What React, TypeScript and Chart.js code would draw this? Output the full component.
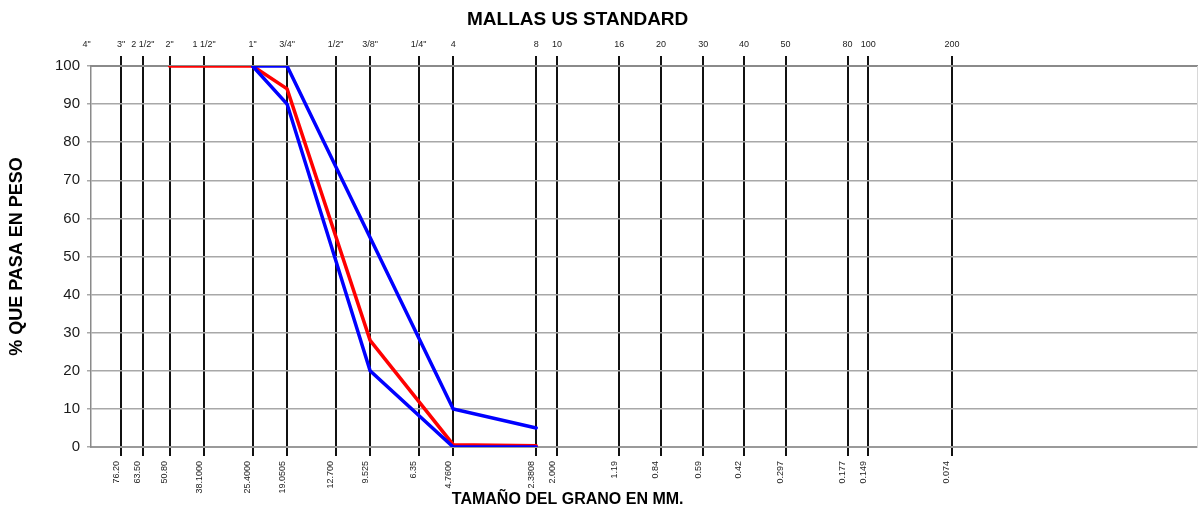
import React, { useEffect, useRef } from 'react';
import { Chart, registerables } from 'chart.js';

Chart.register(...registerables);

// ---- data ----
const chartTitle = 'MALLAS US STANDARD';
const xAxisTitle = 'TAMAÑO DEL GRANO EN MM.';
const yAxisTitle = '% QUE PASA EN PESO';

// bottom axis: sieve openings in mm
const mmTickValues = [76.2, 63.5, 50.8, 38.1, 25.4, 19.0505, 12.7, 9.525, 6.35, 4.76, 2.3808, 2.0, 1.19, 0.84, 0.59, 0.42, 0.297, 0.177, 0.149, 0.074];
const mmTickLabels = ['76.20', '63.50', '50.80', '38.1000', '25.4000', '19.0505', '12.700', '9.525', '6.35', '4.7600', '2.3808', '2.000', '1.19', '0.84', '0.59', '0.42', '0.297', '0.177', '0.149', '0.074'];

// top axis: US standard sieve names
const sieveTickValues = [101.6, 76.2, 63.5, 50.8, 38.1, 25.4, 19.0505, 12.7, 9.525, 6.35, 4.76, 2.3808, 2.0, 1.19, 0.84, 0.59, 0.42, 0.297, 0.177, 0.149, 0.074];
const sieveTickLabels = ['4"', '3"', '2 1/2"', '2"', '1 1/2"', '1"', '3/4"', '1/2"', '3/8"', '1/4"', '4', '8', '10', '16', '20', '30', '40', '50', '80', '100', '200'];

const yTickValues = [0, 10, 20, 30, 40, 50, 60, 70, 80, 90, 100];

// sample curve (red)
const sampleSizes = [50.8, 38.1, 25.4, 19.0505, 9.525, 4.76, 2.3808];
const samplePass = [100, 100, 100, 94, 28, 0.6, 0.3];

// specification limits (blue)
const lowerSizes = [25.4, 19.0505, 9.525, 4.76, 2.3808];
const lowerPass = [100, 90, 20, 0, 0];
const upperSizes = [25.4, 19.0505, 9.525, 4.76, 2.3808];
const upperPass = [100, 100, 55, 10, 5];

// axis bounds (mm)
const xMaxMm = 97.9;
const xMinMm = 0.00957;

const FONT = '"Liberation Sans", Arial, Helvetica, sans-serif';

const titlesPlugin = {
  id: 'freeTitles',
  afterDraw(chart: any) {
    const { ctx, chartArea } = chart;
    const w = chartArea.right - chartArea.left;
    ctx.save();
    ctx.fillStyle = '#000';
    ctx.textAlign = 'center';
    ctx.textBaseline = 'middle';
    ctx.font = `bold 19px ${FONT}`;
    ctx.fillText(chartTitle, chartArea.left + 0.44 * w, 20);
    ctx.font = `bold 16px ${FONT}`;
    ctx.fillText(xAxisTitle, chartArea.left + 0.431 * w, chartArea.bottom + 53);
    ctx.restore();
  },
};

const toPoints = (xs: number[], ys: number[]) => xs.map((x, i) => ({ x, y: ys[i] }));

export default function App() {
  const canvasRef = useRef<HTMLCanvasElement | null>(null);

  useEffect(() => {
    if (!canvasRef.current) return;
    Chart.defaults.font.family = FONT;
    const chart = new Chart(canvasRef.current, {
      type: 'line',
      data: {
        datasets: [
          {
            label: 'Límite inferior',
            data: toPoints(lowerSizes, lowerPass),
            borderColor: '#0000ff',
            borderWidth: 3.5,
            pointRadius: 0,
            fill: false,
            borderCapStyle: 'round',
            xAxisID: 'x',
            yAxisID: 'y',
          },
          {
            label: 'Límite superior',
            data: toPoints(upperSizes, upperPass),
            borderColor: '#0000ff',
            borderWidth: 3.5,
            pointRadius: 0,
            fill: false,
            borderCapStyle: 'round',
            xAxisID: 'x',
            yAxisID: 'y',
          },
          {
            label: 'Muestra',
            data: toPoints(sampleSizes, samplePass),
            borderColor: '#ff0000',
            borderWidth: 3.5,
            pointRadius: 0,
            fill: false,
            borderCapStyle: 'round',
            xAxisID: 'x',
            yAxisID: 'y',
          },
        ],
      },
      options: {
        animation: false,
        responsive: false,
        devicePixelRatio: 1,
        layout: { padding: 0 },
        plugins: {
          legend: { display: false },
          title: { display: false },
          tooltip: { enabled: false },
        },
        scales: {
          x: {
            type: 'logarithmic',
            position: 'bottom',
            reverse: true,
            min: xMinMm,
            max: xMaxMm,
            afterBuildTicks: (s: any) => {
              s.ticks = mmTickValues.map((v) => ({ value: v }));
            },
            afterFit: (s: any) => {
              s.height = 63;
            },
            ticks: {
              autoSkip: false,
              minRotation: 90,
              maxRotation: 90,
              padding: 5,
              labelOffset: -5,
              color: '#222',
              font: { size: 9 },
              callback: (_v: any, i: number) => mmTickLabels[i],
            },
            grid: {
              display: true,
              drawOnChartArea: true,
              drawTicks: true,
              tickLength: 9,
              color: '#111',
              lineWidth: 2,
            },
            border: { display: true, color: '#9a9a9a', width: 2 },
          },
          x2: {
            type: 'logarithmic',
            position: 'top',
            reverse: true,
            min: xMinMm,
            max: xMaxMm,
            afterBuildTicks: (s: any) => {
              s.ticks = sieveTickValues.map((v) => ({ value: v }));
            },
            afterFit: (s: any) => {
              s.height = 66;
            },
            ticks: {
              autoSkip: false,
              minRotation: 0,
              maxRotation: 0,
              padding: 6,
              color: '#222',
              font: { size: 9 },
              callback: (_v: any, i: number) => sieveTickLabels[i],
            },
            grid: {
              display: true,
              drawOnChartArea: false,
              drawTicks: true,
              tickLength: 10,
              color: (c: any) => (c.index === 0 ? 'rgba(0,0,0,0)' : '#111'),
              lineWidth: 2,
            },
            border: { display: true, color: '#8a8a8a', width: 2 },
          },
          y: {
            type: 'linear',
            position: 'left',
            min: 0,
            max: 100,
            afterBuildTicks: (s: any) => {
              s.ticks = yTickValues.map((v) => ({ value: v }));
            },
            afterFit: (s: any) => {
              s.width = 91;
            },
            ticks: {
              padding: 7,
              color: '#1a1a1a',
              font: { size: 15 },
            },
            grid: {
              color: '#a8a8a8',
              lineWidth: 1.5,
              tickLength: 4,
            },
            border: { display: true, color: '#8a8a8a', width: 1.5 },
            title: {
              display: true,
              text: yAxisTitle,
              color: '#000',
              font: { size: 18, weight: 'bold' },
              padding: { top: 6, bottom: 0 },
            },
          },
          y2: {
            type: 'linear',
            position: 'right',
            min: 0,
            max: 100,
            afterFit: (s: any) => {
              s.width = 1;
            },
            ticks: { display: false },
            grid: { display: false },
            border: { display: true, color: '#d8d8d8', width: 1 },
          },
        },
      },
      plugins: [titlesPlugin],
    } as any);
    return () => chart.destroy();
  }, []);

  return (
    <div style={{ position: 'absolute', left: 0, top: 0, width: 1198, height: 510, background: '#fff' }}>
      <canvas ref={canvasRef} width={1198} height={510} style={{ display: 'block' }} />
    </div>
  );
}
